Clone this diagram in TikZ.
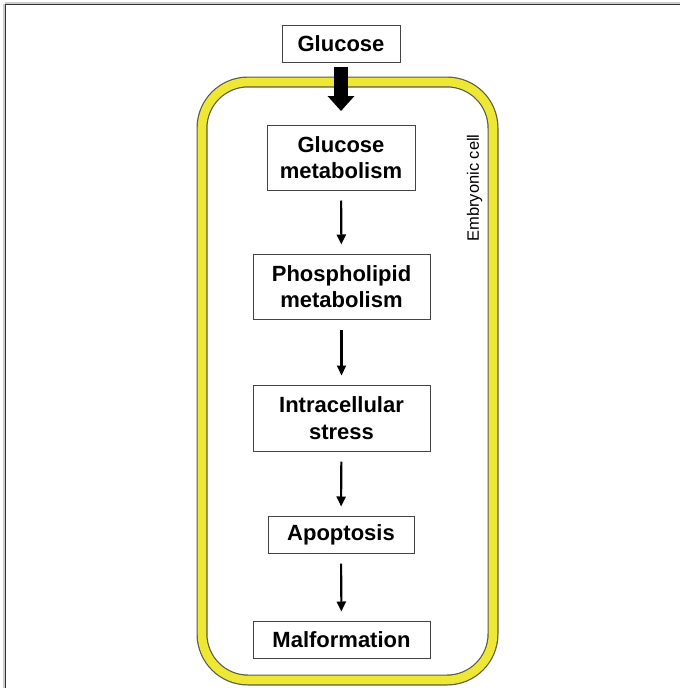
\documentclass[tikz,border=0pt]{standalone}
\usepackage{fontspec}
\setmainfont{Liberation Sans}
\usetikzlibrary{arrows.meta}
\definecolor{cellyellow}{HTML}{EEE733}
\definecolor{cellrim}{HTML}{5A5A4A}
\definecolor{boxline}{HTML}{444444}
\begin{document}
\begin{tikzpicture}[x=1pt,y=-1pt,
  stepbox/.style={draw=boxline, line width=1pt, fill=white, inner sep=0pt, align=center,
    font=\fontsize{22pt}{26.5pt}\selectfont\bfseries},
  flow/.style={line width=2.1pt, -{Triangle[width=9pt,length=10pt]}, shorten <=10pt, shorten >=9pt},
  bigflow/.style={line width=14pt, -{Triangle[width=26pt,length=15pt]}}
]
\useasboundingbox (0,0) rectangle (680,688);
% frame (top and left)
\draw[line width=2.2pt, gray!40] (5,3.5) -- (680,3.5);
\draw[line width=1.2pt, black!80] (5,4.5) -- (680,4.5);
\draw[line width=2.2pt, gray!40] (4.5,4) -- (4.5,688);
\draw[line width=1.2pt, black!80] (5.5,4) -- (5.5,688);
% cell membrane
\draw[line width=11pt, cellrim, rounded corners=46pt] (202,82) rectangle (493,680);
\draw[line width=8.6pt, cellyellow, rounded corners=46pt] (202,82) rectangle (493,680);
% label
\node[rotate=90, font=\fontsize{16.5pt}{19pt}\selectfont] (cell) at (474.5,188) {Embryonic cell};
% boxes
\node[stepbox, minimum width=118pt, minimum height=37pt] (glu) at (341,43.5) {Glucose};
\node[stepbox, minimum width=148pt, minimum height=65pt] (gm) at (341,157.5) {Glucose\\metabolism};
\node[stepbox, minimum width=177pt, minimum height=65pt] (pm) at (341.5,286.5) {Phospholipid\\metabolism};
\node[stepbox, minimum width=177pt, minimum height=66pt] (is) at (341.5,418) {Intracellular\\stress};
\node[stepbox, minimum width=146pt, minimum height=37pt] (ap) at (341,534.5) {Apoptosis};
\node[stepbox, minimum width=177pt, minimum height=37pt] (mf) at (341.5,639.5) {Malformation};
% arrows
\coordinate (entry) at (341,111);
\draw[bigflow] ([yshift=-4pt]glu.south) -- (entry);
\draw[flow] (gm) -- (pm);
\draw[flow] (pm) -- (is);
\draw[flow] (is) -- (ap);
\draw[flow] (ap) -- (mf);
\end{tikzpicture}
\end{document}
